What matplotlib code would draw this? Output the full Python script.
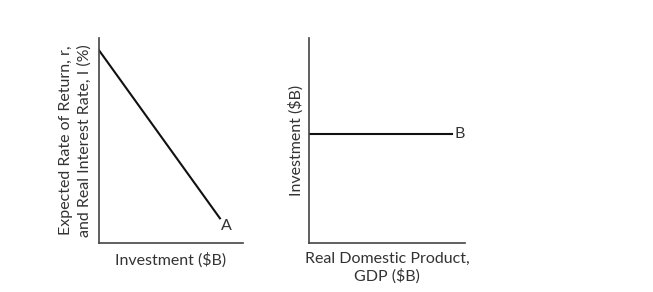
import matplotlib
matplotlib.use("Agg")
import matplotlib.pyplot as plt

plt.rcParams['font.family'] = ['Lato', 'DejaVu Sans']

# Data (in arbitrary axis units 0-10)
curve_a_x = [0.0, 8.4]
curve_a_y = [9.4, 1.2]
curve_b_x = [0.0, 9.2]
curve_b_y = [5.3, 5.3]
left_xlabel = "Investment ($B)"
left_ylabel = "Expected Rate of Return, r,\nand Real Interest Rate, I (%)"
right_xlabel = "Real Domestic Product,\nGDP ($B)"
right_ylabel = "Investment ($B)"

fig = plt.figure(figsize=(6.53, 2.92), dpi=100)
txtc = '#333333'
axc = '#444444'
fs = 11.5

def style(ax):
    for s in ['top', 'right']:
        ax.spines[s].set_visible(False)
    for s in ['left', 'bottom']:
        ax.spines[s].set_color(axc)
        ax.spines[s].set_linewidth(1.2)
    ax.set_xticks([]); ax.set_yticks([])
    ax.set_xlim(0, 10); ax.set_ylim(0, 10)

ax1 = fig.add_axes([0.1516, 0.168, 0.2205, 0.702])
style(ax1)
ax1.plot(curve_a_x, curve_a_y, color='#111111', lw=1.5)
ax1.text(curve_a_x[1] + 0.1, curve_a_y[1] - 0.35, 'A', ha='left', va='center', fontsize=fs, color=txtc)
ax1.set_xlabel(left_xlabel, fontsize=fs, color=txtc, labelpad=6.5)
ax1.set_ylabel(left_ylabel, fontsize=fs, color=txtc, labelpad=5, linespacing=1.4)

ax2 = fig.add_axes([0.473, 0.168, 0.239, 0.702])
style(ax2)
ax2.plot(curve_b_x, curve_b_y, color='#111111', lw=1.5)
ax2.text(curve_b_x[1] + 0.15, curve_b_y[1], 'B', ha='left', va='center', fontsize=fs, color=txtc)
ax2.set_xlabel(right_xlabel, fontsize=fs, color=txtc, labelpad=6.5, linespacing=1.2)
ax2.set_ylabel(right_ylabel, fontsize=fs, color=txtc, labelpad=4)

fig.savefig('out.png', dpi=100, facecolor='white')
